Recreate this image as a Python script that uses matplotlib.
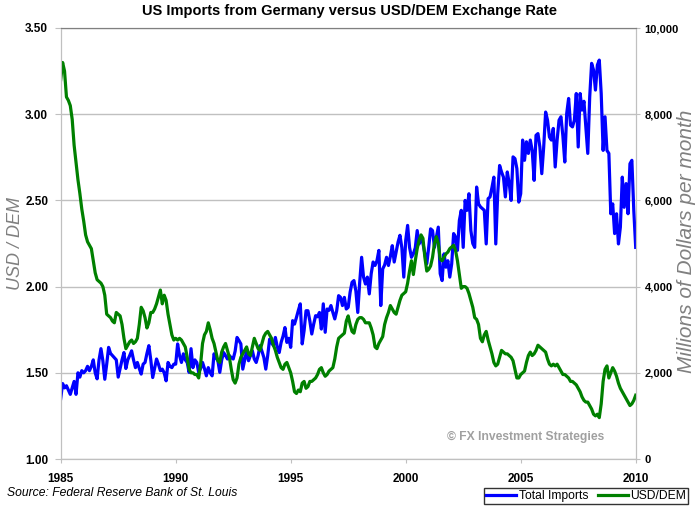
import numpy as np
import matplotlib
matplotlib.use("Agg")
import matplotlib.pyplot as plt

plt.rcParams["font.family"] = ["Liberation Sans", "DejaVu Sans"]

# monthly values, Jan 1985 .. Jan 2010
usd_dem = [
    3.20, 3.30, 3.25, 3.10, 3.08, 3.05, 2.97, 2.82, 2.72, 2.62, 2.54, 2.45,  # 1985
    2.38, 2.30, 2.26, 2.24, 2.22, 2.15, 2.08, 2.04, 2.03, 2.02, 2.00, 1.95,  # 1986
    1.84, 1.83, 1.82, 1.80, 1.79, 1.85, 1.84, 1.83, 1.78, 1.70, 1.64, 1.66,  # 1987
    1.68, 1.69, 1.67, 1.68, 1.70, 1.78, 1.88, 1.86, 1.82, 1.76, 1.79, 1.85,  # 1988
    1.85, 1.87, 1.90, 1.94, 1.98, 1.90, 1.95, 1.92, 1.84, 1.78, 1.72, 1.69,  # 1989
    1.70, 1.69, 1.70, 1.69, 1.67, 1.65, 1.59, 1.52, 1.50, 1.50, 1.49, 1.49,  # 1990
    1.47, 1.55, 1.67, 1.72, 1.74, 1.79, 1.75, 1.70, 1.67, 1.62, 1.57, 1.56,  # 1991
    1.62, 1.65, 1.67, 1.63, 1.59, 1.52, 1.46, 1.44, 1.47, 1.55, 1.59, 1.61,  # 1992
    1.63, 1.65, 1.61, 1.60, 1.65, 1.70, 1.67, 1.64, 1.63, 1.67, 1.71, 1.73,  # 1993
    1.74, 1.72, 1.70, 1.66, 1.63, 1.59, 1.56, 1.53, 1.52, 1.55, 1.56, 1.53,  # 1994
    1.50, 1.45, 1.39, 1.38, 1.40, 1.39, 1.44, 1.45, 1.41, 1.42, 1.45, 1.45,  # 1995
    1.46, 1.47, 1.49, 1.52, 1.53, 1.50, 1.48, 1.49, 1.51, 1.52, 1.53, 1.58,  # 1996
    1.65, 1.70, 1.71, 1.72, 1.73, 1.80, 1.83, 1.78, 1.74, 1.73, 1.78, 1.81,  # 1997
    1.82, 1.82, 1.81, 1.79, 1.79, 1.79, 1.76, 1.72, 1.65, 1.64, 1.67, 1.69,  # 1998
    1.71, 1.78, 1.82, 1.85, 1.89, 1.87, 1.85, 1.84, 1.88, 1.92, 1.95, 1.96,  # 1999
    1.97, 2.02, 2.09, 2.15, 2.07, 2.15, 2.22, 2.27, 2.30, 2.28, 2.17, 2.09,  # 2000
    2.10, 2.12, 2.17, 2.25, 2.29, 2.25, 2.16, 2.15, 2.17, 2.19, 2.20, 2.22,  # 2001
    2.23, 2.24, 2.21, 2.15, 2.07, 1.99, 2.00, 2.00, 1.99, 1.96, 1.92, 1.88,  # 2002
    1.82, 1.81, 1.78, 1.70, 1.68, 1.72, 1.74, 1.69, 1.65, 1.61, 1.56, 1.54,  # 2003
    1.55, 1.59, 1.63, 1.62, 1.61, 1.61, 1.60, 1.59, 1.57, 1.52, 1.47, 1.47,  # 2004
    1.49, 1.50, 1.51, 1.56, 1.60, 1.62, 1.60, 1.61, 1.63, 1.66, 1.65, 1.64,  # 2005
    1.63, 1.62, 1.58, 1.55, 1.54, 1.55, 1.54, 1.55, 1.53, 1.51, 1.49, 1.49,  # 2006
    1.48, 1.47, 1.45, 1.45, 1.44, 1.43, 1.41, 1.39, 1.36, 1.34, 1.33, 1.33,  # 2007
    1.31, 1.29, 1.26, 1.25, 1.26, 1.24, 1.32, 1.45, 1.52, 1.54, 1.47, 1.50,  # 2008
    1.53, 1.51, 1.48, 1.44, 1.41, 1.39, 1.37, 1.35, 1.33, 1.31, 1.32, 1.34,  # 2009
    1.37,                                                                    # 2010
]

# total imports from Germany, millions of dollars per month
imports = [
    1400, 1750, 1650, 1700, 1600, 1500, 1650, 1800, 1500, 2000, 1900, 2050,  # 1985
    2000, 2050, 2150, 2050, 2150, 2300, 2000, 1860, 2300, 2560, 2280, 1850,  # 1986
    2200, 2590, 2450, 2400, 2350, 2300, 1900, 2100, 2300, 2470, 2100, 2300,  # 1987
    2400, 2510, 2300, 2120, 2240, 2100, 1970, 2200, 2240, 2450, 2630, 2300,  # 1988
    1890, 2100, 2320, 2200, 2050, 2085, 2000, 1814, 2240, 2150, 2120, 2200,  # 1989
    2200, 2670, 2400, 2240, 2440, 2300, 2240, 2010, 2560, 2120, 2300, 2240,  # 1990
    2010, 2100, 2240, 2100, 1930, 2120, 2000, 1930, 2440, 2350, 2280, 2010,  # 1991
    2300, 2470, 2400, 2320, 2400, 2350, 2320, 2500, 2820, 2750, 2670, 2085,  # 1992
    2300, 2510, 2280, 2400, 2510, 2320, 2240, 2400, 2630, 2500, 2355, 2085,  # 1993
    2400, 2780, 2700, 2630, 2820, 2600, 2470, 2705, 2850, 3050, 2705, 2800,  # 1994
    2590, 3210, 3130, 3285, 3450, 3600, 2670, 2980, 3440, 3440, 3200, 2900,  # 1995
    3130, 3325, 3300, 3400, 3015, 3600, 2940, 3480, 3450, 3560, 3400, 3250,  # 1996
    3440, 3790, 3750, 3560, 3750, 3480, 3520, 3870, 4100, 4140, 3900, 3400,  # 1997
    4100, 4680, 4220, 4060, 4220, 3830, 4300, 4570, 4490, 4600, 4840, 3560,  # 1998
    4410, 4500, 4680, 4490, 4700, 4950, 4570, 4800, 5030, 5190, 4900, 4220,  # 1999
    5070, 5420, 4910, 4680, 4760, 4900, 5300, 4990, 5150, 5000, 4760, 4530,  # 2000
    4910, 5340, 5300, 4910, 5150, 5380, 4300, 4140, 4760, 4450, 4600, 4220,  # 2001
    4530, 5230, 5150, 4840, 5535, 5770, 4910, 6000, 5770, 6155, 5300, 5000,  # 2002
    4910, 6310, 5920, 5850, 5810, 5770, 4990, 6040, 6080, 6300, 6540, 4990,  # 2003
    6155, 6810, 6660, 6540, 6080, 6660, 6400, 6000, 7010, 6970, 6740, 5960,  # 2004
    6155, 7400, 6930, 7360, 7090, 7400, 7160, 6465, 7510, 7550, 7240, 6620,  # 2005
    7240, 8050, 7860, 7470, 7400, 7670, 6775, 7400, 7860, 7940, 7500, 6890,  # 2006
    8015, 8365, 7745, 7705, 7860, 8480, 7240, 8480, 8095, 8300, 7705, 7090,  # 2007
    8400, 9180, 9025, 8560, 9140, 9255, 8480, 7160, 7940, 7160, 7090, 5690,  # 2008
    5920, 5230, 5690, 4990, 5380, 6540, 5840, 6390, 5690, 6850, 6930, 5770,  # 2009
    4910,                                                                    # 2010
]

years = 1985 + np.arange(len(usd_dem)) / 12.0
year_ticks = [1985, 1990, 1995, 2000, 2005, 2010]
fx_ticks = [1.00, 1.50, 2.00, 2.50, 3.00, 3.50]
imp_ticks = [0, 2000, 4000, 6000, 8000, 10000]

GRID = "#c0c0c0"

fig = plt.figure(figsize=(6.97, 5.08), dpi=100)
ax = fig.add_axes([60.7 / 697, 1 - 459 / 508, 575 / 697, 431 / 508])
ax2 = ax.twinx()

# green on top of blue, grid drawn on the back axes
ax.set_zorder(2)
ax2.set_zorder(1)
ax.patch.set_visible(False)
ax2.patch.set_facecolor("white")

ax2.plot(years, imports, color="#0000ff", lw=2.3, label="Total Imports")
ax.plot(years, usd_dem, color="#008000", lw=2.3, label="USD/DEM")

ax.set_xlim(1985, 2010)
ax.set_ylim(1.0, 3.5)
ax2.set_ylim(0, 10000)

ax.set_xticks(year_ticks)
ax.set_xticklabels([str(y) for y in year_ticks], fontweight="bold", fontsize=8.5)
ax.set_yticks(fx_ticks)
ax.set_yticklabels([f"{v:.2f}" for v in fx_ticks], fontweight="bold", fontsize=8.5)
ax2.set_yticks(imp_ticks)
ax2.set_yticklabels([f"{v:,}" for v in imp_ticks], fontweight="bold", fontsize=8)

ax2.grid(True, color=GRID, lw=1)
ax2.xaxis.grid(True, color=GRID, lw=1)
ax2.set_axisbelow(True)

ax.tick_params(axis="x", length=3, color=GRID, pad=7)
ax.tick_params(axis="y", length=4, color=GRID, pad=5)
ax2.tick_params(axis="y", length=3, color=GRID, pad=3.5)

for a in (ax, ax2):
    for side in ("left", "right", "bottom"):
        a.spines[side].set_color(GRID)
    a.spines["top"].set_color("#808080")

fig.text(349 / 697, 1 - 11 / 508, "US Imports from Germany versus USD/DEM Exchange Rate",
         ha="center", va="center", fontsize=10.5, fontweight="bold")
fig.text(15 / 697, 1 - 244 / 508, "USD / DEM", rotation=90, ha="center", va="center",
         fontsize=13, fontstyle="italic", color="#808080")
fig.text(687 / 697, 1 - 241 / 508, "Millions of Dollars per month", rotation=90,
         ha="center", va="center", fontsize=15, fontstyle="italic", color="#808080")
fig.text(526 / 697, 1 - 437 / 508, "\u00a9 FX Investment Strategies", ha="center",
         va="center", fontsize=8.7, fontweight="bold", color="#a0a0a0")
fig.text(7 / 697, 1 - 493 / 508, "Source: Federal Reserve Bank of St. Louis",
         ha="left", va="center", fontsize=8.7, fontstyle="italic")

h1, l1 = ax2.get_legend_handles_labels()
h2, l2 = ax.get_legend_handles_labels()
leg = fig.legend(h1 + h2, l1 + l2, loc="lower right", ncol=2,
                 bbox_to_anchor=(688 / 697, 1 - 504 / 508), fontsize=8.7,
                 frameon=True, fancybox=False, edgecolor="black", borderpad=0.15,
                 handlelength=2.5, handletextpad=0.2, columnspacing=0.8,
                 borderaxespad=0)
leg.get_frame().set_linewidth(1.0)

fig.savefig("out.png", dpi=100)
